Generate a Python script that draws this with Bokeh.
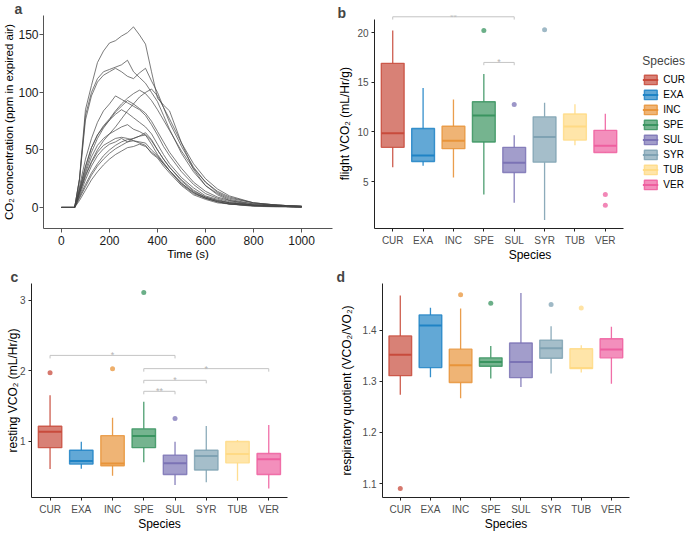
from bokeh.plotting import figure
from bokeh.layouts import row, column
from bokeh.models import ColumnDataSource, FixedTicker, Label, Legend, LegendItem, Range1d
from bokeh.embed import file_html
from bokeh.resources import INLINE

FONT = "Liberation Sans"

# ---------------- panel a data ----------------
time_s = [0, 55, 75, 100, 125, 150, 175, 200, 225, 250, 275, 300, 325, 350, 375,
          400, 425, 450, 500, 550, 600, 650, 700, 800, 900, 1000]
co2_trace_01 = [0, 0, 25, 85, 106, 126, 136, 143, 145, 149, 152, 157, 150, 142, 118, 95, 89, 84, 56, 33, 19, 11, 6, 3, 2, 1]
co2_trace_02 = [0, 0, 24, 80, 100, 112, 118, 120, 122, 124, 128, 118, 113, 108, 100, 92, 80, 68, 47, 31, 19, 12, 7, 3, 2, 1]
co2_trace_03 = [0, 0, 24, 76, 97, 109, 115, 118, 121, 118, 114, 112, 117, 121, 110, 100, 87, 74, 53, 35, 22, 13, 8, 4, 2, 1]
co2_trace_04 = [0, 0, 15, 35, 52, 63, 71, 77, 84, 90, 95, 99, 102, 99, 93, 85, 76, 67, 49, 34, 22, 14, 9, 4, 2, 1]
co2_trace_05 = [0, 0, 12, 28, 40, 50, 58, 64, 70, 77, 84, 90, 96, 100, 103, 97, 87, 77, 56, 38, 25, 16, 10, 4, 2, 1]
co2_trace_06 = [0, 0, 18, 42, 60, 74, 84, 90, 97, 94, 91, 88, 85, 80, 72, 63, 53, 45, 31, 20, 12, 8, 5, 2, 1, 0.5]
co2_trace_07 = [0, 0, 16, 36, 52, 63, 70, 76, 81, 85, 82, 78, 74, 70, 64, 55, 46, 38, 26, 17, 10, 7, 4, 2, 1, 0.5]
co2_trace_08 = [0, 0, 14, 32, 48, 60, 69, 76, 83, 88, 93, 90, 86, 82, 75, 66, 57, 48, 34, 22, 14, 9, 6, 2, 1, 0.5]
co2_trace_09 = [0, 0, 13, 30, 44, 54, 60, 64, 67, 70, 72, 68, 66, 63, 58, 50, 42, 35, 24, 15, 9, 6, 4, 2, 1, 0.5]
co2_trace_10 = [0, 0, 9, 20, 30, 38, 45, 50, 54, 57, 59, 60, 62, 65, 59, 50, 42, 35, 23, 14, 9, 6, 4, 2, 1, 0.5]
co2_trace_11 = [0, 0, 12, 27, 39, 48, 54, 57, 60, 61, 60, 58, 56, 54, 47, 43, 36, 30, 19, 11, 7, 4, 3, 1.5, 1, 0.5]
co2_trace_12 = [0, 0, 8, 18, 28, 36, 42, 47, 51, 54, 57, 58, 57, 56, 50, 45, 38, 32, 20, 12, 8, 5, 3, 1.5, 1, 0.5]
co2_trace_13 = [0, 0, 6, 15, 24, 31, 37, 42, 46, 49, 52, 53, 55, 53, 48, 44, 38, 32, 21, 13, 8, 5, 3, 1, 0.5, 0.3]
co2_trace_14 = [0, 0, 10, 24, 36, 45, 51, 55, 57, 60, 57, 60, 62, 63, 55, 46, 39, 32, 21, 13, 8, 5, 3, 1.5, 1, 0.5]
co2_traces = [co2_trace_01, co2_trace_02, co2_trace_03, co2_trace_04, co2_trace_05,
              co2_trace_06, co2_trace_07, co2_trace_08, co2_trace_09, co2_trace_10,
              co2_trace_11, co2_trace_12, co2_trace_13, co2_trace_14]
time_ticks = [0, 200, 400, 600, 800, 1000]
co2_ticks = [0, 50, 100, 150]

# ---------------- species ----------------
species = ["CUR", "EXA", "INC", "SPE", "SUL", "SYR", "TUB", "VER"]
species_colors = ["#C84B3C", "#1F83C5", "#E8943A", "#3A9460", "#7B73B5", "#7FA2B3", "#FFDA85", "#EE5F9F"]

# ---------------- panel b: flight VCO2 ----------------
flight_min = [6.45, 6.60, 5.41, 3.70, 2.88, 1.14, 8.67, 7.88]
flight_q1 = [8.45, 7.03, 8.32, 8.99, 5.92, 6.96, 9.18, 7.94]
flight_med = [9.87, 7.63, 9.11, 11.65, 6.90, 9.49, 10.54, 8.61]
flight_q3 = [16.90, 10.35, 10.57, 13.04, 8.45, 11.52, 11.80, 10.16]
flight_max = [20.20, 14.43, 13.26, 15.82, 9.68, 12.94, 12.78, 11.84]
flight_out_species = ["SPE", "SUL", "SYR", "VER", "VER"]
flight_out_values = [20.19, 12.75, 20.28, 3.70, 2.63]
flight_sig_pairs = [("CUR", "SUL"), ("SPE", "SUL")]
flight_sig_labels = ["**", "*"]
flight_ticks = [5, 10, 15, 20]

# ---------------- panel c: resting VCO2 ----------------
rest_min = [0.604, 0.609, 0.508, 0.701, 0.379, 0.416, 0.439, 0.329]
rest_q1 = [0.908, 0.674, 0.651, 0.908, 0.526, 0.591, 0.692, 0.526]
rest_med = [1.133, 0.720, 0.683, 1.074, 0.687, 0.789, 0.816, 0.743]
rest_q3 = [1.211, 0.871, 1.078, 1.175, 0.802, 0.871, 0.995, 0.825]
rest_max = [1.653, 0.991, 1.331, 1.561, 0.991, 1.216, 1.018, 1.230]
rest_out_species = ["CUR", "INC", "SPE", "SUL"]
rest_out_values = [1.970, 2.030, 3.110, 1.322]
rest_sig_pairs = [("CUR", "SUL"), ("SPE", "VER"), ("SPE", "SYR"), ("SPE", "SUL")]
rest_sig_labels = ["*", "*", "*", "**"]
rest_ticks = [1, 2, 3]

# ---------------- panel d: respiratory quotient ----------------
rq_min = [1.2737, 1.3078, 1.2667, 1.3052, 1.2888, 1.3153, 1.3172, 1.2951]
rq_q1 = [1.3110, 1.3267, 1.2977, 1.3293, 1.3071, 1.3450, 1.3248, 1.3457]
rq_med = [1.3520, 1.4088, 1.3311, 1.3375, 1.3375, 1.3646, 1.3261, 1.3621]
rq_q3 = [1.3886, 1.4297, 1.3627, 1.3457, 1.3747, 1.3804, 1.3634, 1.3830]
rq_max = [1.4676, 1.4436, 1.4423, 1.3690, 1.4726, 1.4076, 1.3703, 1.4063]
rq_out_species = ["CUR", "INC", "SPE", "SYR", "TUB"]
rq_out_values = [1.0905, 1.4689, 1.4524, 1.4499, 1.4430]
rq_ticks = [1.1, 1.2, 1.3, 1.4]


def make_fig(w, h, xr, yr, bl, br, bt, bb):
    p = figure(width=w, height=h, x_range=Range1d(*xr), y_range=Range1d(*yr),
               output_backend="svg", toolbar_location=None, tools="",
               min_border_left=bl, min_border_right=br, min_border_top=bt, min_border_bottom=bb)
    p.xgrid.grid_line_color = None
    p.ygrid.grid_line_color = None
    p.outline_line_color = None
    return p


def style_axes(p, tick_size, title_size, tick_color, line_color, tick_out,
               x_std=(3, -1), y_std=(3, -3)):
    for ax, (lab_std, title_std) in ((p.xaxis[0], x_std), (p.yaxis[0], y_std)):
        ax.axis_line_color = line_color
        ax.axis_line_width = 1
        ax.major_tick_line_color = line_color
        ax.major_tick_out = tick_out
        ax.major_tick_in = 0
        ax.minor_tick_line_color = None
        ax.major_label_text_font = FONT
        ax.major_label_text_font_size = tick_size
        ax.major_label_text_color = tick_color
        ax.major_label_standoff = lab_std
        ax.axis_label_text_font = FONT
        ax.axis_label_text_font_size = title_size
        ax.axis_label_text_font_style = "normal"
        ax.axis_label_text_color = "black"
        ax.axis_label_standoff = title_std


def title_letter(p, txt, offset, standoff):
    p.title.text = txt
    p.title.text_font = FONT
    p.title.text_font_size = "14px"
    p.title.text_font_style = "bold"
    p.title.align = "left"
    p.title.offset = offset
    p.title.standoff = standoff


def box_panel(p, mins, q1s, meds, q3s, maxs, out_sp, out_vals, yticks, ylabel, y_std):
    pos = list(range(1, len(species) + 1))
    src = ColumnDataSource(dict(x=pos, lo=mins, q1=q1s, med=meds, q3=q3s, hi=maxs,
                                color=species_colors,
                                left=[v - 0.375 for v in pos], right=[v + 0.375 for v in pos]))
    p.segment(x0="x", y0="q3", x1="x", y1="hi", source=src, line_color="color", line_width=1.3, line_alpha=0.9)
    p.segment(x0="x", y0="q1", x1="x", y1="lo", source=src, line_color="color", line_width=1.3, line_alpha=0.9)
    box = p.vbar(x="x", width=0.75, bottom="q1", top="q3", source=src, fill_color="color",
                 fill_alpha=0.7, line_color="color", line_alpha=0.85, line_width=1.4)
    med = p.segment(x0="left", y0="med", x1="right", y1="med", source=src, line_color="color", line_width=2)
    osrc = ColumnDataSource(dict(x=[species.index(s) + 1 for s in out_sp], y=out_vals,
                                 color=[species_colors[species.index(s)] for s in out_sp]))
    p.scatter(x="x", y="y", source=osrc, size=5, fill_color="color", line_color=None, fill_alpha=0.75)
    p.xaxis.ticker = FixedTicker(ticks=pos)
    p.xaxis.major_label_overrides = {i + 1: s for i, s in enumerate(species)}
    p.xaxis.bounds = (0.4, 8.6)
    p.yaxis.ticker = FixedTicker(ticks=yticks)
    p.xaxis.axis_label = "Species"
    p.yaxis.axis_label = ylabel
    style_axes(p, "10px", "12px", "#4D4D4D", "#222222", 3, x_std=(3, -1), y_std=y_std)
    return box, med


def brackets(p, pairs, labels, heights, tip):
    for (a, b), lab, y in zip(pairs, labels, heights):
        xa = species.index(a) + 1
        xb = species.index(b) + 1
        p.line(x=[xa, xa, xb, xb], y=[y - tip, y, y, y - tip], line_color="#C4C4C4", line_width=1)
        p.add_layout(Label(x=(xa + xb) / 2, y=y, text=lab, text_align="center", text_baseline="alphabetic",
                           text_font=FONT, text_font_size="9px", text_color="#B5B5B5"))


# ---------------- panel a ----------------
pa = make_fig(335, 265, (-74.7, 1128.6), (-18.3, 166.9), 42, 3, 13, 37)
for tr in co2_traces:
    pa.line(x=time_s, y=tr, line_color="#474747", line_width=0.8, line_alpha=0.9)
pa.xaxis.ticker = FixedTicker(ticks=time_ticks)
pa.yaxis.ticker = FixedTicker(ticks=co2_ticks)
pa.xaxis.axis_label = "Time (s)"
pa.yaxis.axis_label = "CO\u2082 concentration (ppm in expired air)"
style_axes(pa, "12px", "11.5px", "#1A1A1A", "#555555", 4, x_std=(3, 0), y_std=(1, 0))
title_letter(pa, "a", -29, -3)

# ---------------- panel b ----------------
pb = make_fig(350, 265, (0.4, 10.64), (0.29, 21.71), 39, 0, 6, 33)
box_b, med_b = box_panel(pb, flight_min, flight_q1, flight_med, flight_q3, flight_max,
                         flight_out_species, flight_out_values, flight_ticks,
                         "flight  VCO\u2082 (mL/Hr/g)", (3, 2))
pb.yaxis.bounds = (0.29, 21.33)
brackets(pb, flight_sig_pairs, flight_sig_labels, [21.58, 16.99], 0.28)
title_letter(pb, "b", -37, -10)
items = [LegendItem(label=s, renderers=[box_b, med_b], index=i) for i, s in enumerate(species)]
legend = Legend(items=items, title="Species", location="center_right", border_line_color=None,
                background_fill_alpha=0, title_text_font=FONT, title_text_font_size="12px",
                title_text_font_style="normal", title_standoff=6,
                label_text_font=FONT, label_text_font_size="10px", label_text_color="black",
                glyph_width=16, glyph_height=12, label_height=12, spacing=3, padding=1,
                margin=0, label_standoff=5)
pb.add_layout(legend)

# ---------------- panel c ----------------
pc = make_fig(335, 268, (0.406, 8.6), (0.2, 3.239), 31, 48, 18, 30)
box_panel(pc, rest_min, rest_q1, rest_med, rest_q3, rest_max,
          rest_out_species, rest_out_values, rest_ticks, "resting VCO\u2082 (mL/Hr/g)", (3, -3))
brackets(pc, rest_sig_pairs, rest_sig_labels, [2.218, 2.03, 1.864, 1.708], 0.043)
title_letter(pc, "c", -21, -2)

# ---------------- panel d ----------------
pd_ = make_fig(350, 268, (0.41, 8.6), (1.0729, 1.491), 47, 56, 18, 30)
box_panel(pd_, rq_min, rq_q1, rq_med, rq_q3, rq_max,
          rq_out_species, rq_out_values, rq_ticks, "respiratory quotient (VCO\u2082/VO\u2082)", (3, 6))
title_letter(pd_, "d", -46, -2)

layout = column(row(pa, pb), row(pc, pd_))
open("out.html", "w").write(file_html(layout, INLINE, title="CO2 figure"))
